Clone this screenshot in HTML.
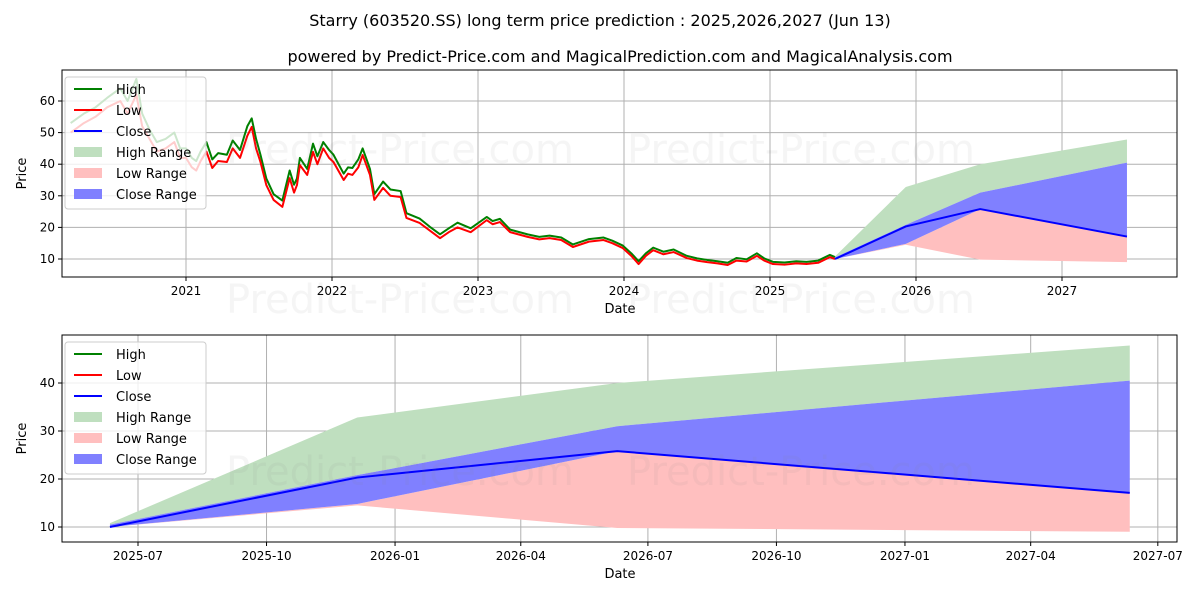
<!DOCTYPE html>
<html><head><meta charset="utf-8"><style>
body{margin:0;background:#fff;font-family:"DejaVu Sans","Liberation Sans",sans-serif;}
svg text{font-family:"DejaVu Sans","Liberation Sans",sans-serif;}
</style></head><body>
<svg id="c" width="1200" height="600" xmlns="http://www.w3.org/2000/svg">
<rect width="1200" height="600" fill="#fff"/>
<text x="600" y="26" font-size="16" text-anchor="middle">Starry (603520.SS) long term price prediction : 2025,2026,2027 (Jun 13)</text>
<text x="620" y="62" font-size="16" text-anchor="middle">powered by Predict-Price.com and MagicalPrediction.com and MagicalAnalysis.com</text>
</svg>
<script>
// historical data (decimal years)
const histT=[2020.21,2020.3,2020.38,2020.46,2020.55,2020.6,2020.66,2020.7,2020.75,2020.8,2020.86,2020.92,2020.96,2021.0,2021.04,2021.07,2021.1,2021.14,2021.18,2021.22,2021.28,2021.32,2021.37,2021.42,2021.45,2021.48,2021.51,2021.55,2021.6,2021.66,2021.71,2021.74,2021.76,2021.78,2021.83,2021.87,2021.9,2021.94,2021.98,2022.01,2022.08,2022.11,2022.14,2022.18,2022.21,2022.26,2022.29,2022.35,2022.4,2022.47,2022.51,2022.6,2022.67,2022.74,2022.8,2022.86,2022.95,2023.06,2023.1,2023.15,2023.22,2023.34,2023.42,2023.49,2023.57,2023.65,2023.76,2023.86,2023.92,2023.99,2024.05,2024.1,2024.15,2024.2,2024.27,2024.34,2024.43,2024.5,2024.57,2024.64,2024.71,2024.77,2024.84,2024.91,2024.96,2025.02,2025.1,2025.18,2025.25,2025.33,2025.41,2025.445];
const histLow=[50,53,55,58,60,56,62,52,48,44,45,47,42,42,39,38,41,44,38.8,41,40.7,45,42,49,51.8,45,40.7,33.4,28.7,26.5,35.6,31,33.4,39.7,36.6,43.9,40,45,42,40.7,35,37,36.6,39,42.9,36.6,28.7,32.5,30,29.6,23,21.4,19,16.6,18.5,20,18.5,22.3,21,21.7,18.5,17,16.2,16.6,16,13.8,15.5,16,15,13.5,11,8.4,11,12.8,11.5,12.2,10.3,9.5,9,8.6,8.1,9.5,9.2,11,9.5,8.4,8.2,8.6,8.4,8.8,10.6,10];
const histHigh=[53,56,58,61,64,60,67,56,51,47,48,50,45,45,42,41,44,47,41.5,43.5,43,47.5,44.5,52,54.5,48,43,35.5,30.5,28.5,38,33.5,35.5,42,38.5,46.5,42.5,47,44.5,43,37,39,38.8,41.5,45,38.5,30.5,34.5,32,31.5,24.5,22.8,20.2,17.8,19.7,21.5,19.7,23.3,22,22.7,19.3,17.8,17,17.4,16.8,14.6,16.3,16.8,15.8,14.3,11.8,9.3,11.8,13.6,12.3,13,11,10.2,9.7,9.3,8.8,10.3,9.9,11.8,10.2,9.1,8.9,9.3,9.1,9.5,11.3,10.6];
// forecast
const fcT=[2025.445,2025.93,2026.44,2027.445];
const fcClose=[10,20.3,25.8,17.1];
const fcHighUp=[10.8,32.8,40,47.8];
const fcCloseUp=[10.5,20.8,31,40.5];
const fcCloseLo=[10,14.8,25.8,17.1];
const fcLowLo=[10,14.5,9.8,9];
const topYTicks=[10,20,30,40,50,60];
const topXTicks=[2021,2022,2023,2024,2025,2026,2027];
const botYTicks=[10,20,30,40];
const botXLabels=['2025-07','2025-10','2026-01','2026-04','2026-07','2026-10','2027-01','2027-04','2027-07'];
const botXDays=[0,92,184,274,365,457,549,639,730];

const NS='http://www.w3.org/2000/svg';
const svg=document.getElementById('c');
function el(tag,attrs,parent){const e=document.createElementNS(NS,tag);for(const k in attrs)e.setAttribute(k,attrs[k]);(parent||svg).appendChild(e);return e;}

function panel(top,bottom,xs,ys,xTicks,xLabels,yTicks,name){
  const g=el('g',{});
  
  
  xTicks.forEach((v,i)=>{const x=xs(v);
    const l=el('line',{x1:x,x2:x,y1:top,y2:bottom,stroke:'#b0b0b0','stroke-width':1},g);
    
    el('line',{x1:x,x2:x,y1:bottom,y2:bottom+4,stroke:'#000'},g);
    const t=el('text',{x:x,y:bottom+18,'font-size':12,'text-anchor':'middle'},g);t.textContent=xLabels[i];
    });
  yTicks.forEach(v=>{const y=ys(v);
    const l=el('line',{x1:62,x2:1177,y1:y,y2:y,stroke:'#b0b0b0','stroke-width':1},g);
    
    el('line',{x1:58,x2:62,y1:y,y2:y,stroke:'#000'},g);
    const t=el('text',{x:55,y:y+4,'font-size':12,'text-anchor':'end'},g);t.textContent=v;
    });
  const yl=el('text',{x:26,y:(top+bottom)/2,'font-size':13,'text-anchor':'middle',transform:`rotate(-90 26 ${(top+bottom)/2})`},g);yl.textContent='Price';
  
  const xl=el('text',{x:620,y:bottom+36,'font-size':13,'text-anchor':'middle'},g);xl.textContent='Date';
  
  return g;
}
function watermark(y,g){
  [400,801].forEach(x=>{
    const w=el('text',{x:x,y:y,'font-size':40,fill:'#808080','fill-opacity':0.08,'text-anchor':'middle'},g);
    w.textContent='Predict-Price.com';
    
  });
}
function poly(xs,ys,T,lo,hi,fill,g,name){
  let pts=T.map((t,i)=>xs(t)+','+ys(hi[i]));
  for(let i=T.length-1;i>=0;i--)pts.push(xs(T[i])+','+ys(lo[i]));
  const p=el('polygon',{points:pts.join(' '),fill:fill},g);
  
}
function line(xs,ys,T,V,col,w,g,name){
  const p=el('polyline',{points:T.map((t,i)=>xs(t)+','+ys(V[i])).join(' '),fill:'none',stroke:col,'stroke-width':w,'stroke-linejoin':'round'},g);
  
}
function legend(x,y,g){
  const lg=el('g',{},g);
  
  el('rect',{x:x,y:y,width:141,height:132,rx:3,fill:'rgba(255,255,255,0.8)',stroke:'#ccc'},lg);
  const items=[['High','#008000','line'],['Low','#ff0000','line'],['Close','#0000ff','line'],['High Range','#bfdfbf','patch'],['Low Range','#ffbfbf','patch'],['Close Range','#8080ff','patch']];
  items.forEach((it,i)=>{const yy=y+12+i*21;
    const e=el('g',{},lg);
    
    if(it[2]=='line')el('line',{x1:x+9,x2:x+37,y1:yy,y2:yy,stroke:it[1],'stroke-width':2},e);
    else el('rect',{x:x+9,y:yy-5,width:28,height:10,fill:it[1]},e);
    const t=el('text',{x:x+51,y:yy+5,'font-size':13},e);t.textContent=it[0];});
}
// top panel
const tTop=70,tBot=277;
const xsT=t=>186+(t-2021)*146;
const ysT=v=>259-(v-10)*3.16;
const gT=panel(tTop,tBot,xsT,ysT,topXTicks,topXTicks.map(String),topYTicks,'top-panel');
poly(xsT,ysT,fcT,fcCloseUp,fcHighUp,'#bfdfbf',gT,'high-range');
poly(xsT,ysT,fcT,fcLowLo,fcCloseLo,'#ffbfbf',gT,'low-range');
poly(xsT,ysT,fcT,fcCloseLo,fcCloseUp,'#8080ff',gT,'close-range');
line(xsT,ysT,histT,histHigh,'#008000',2,gT,'high-line');
line(xsT,ysT,histT,histLow,'#ff0000',2,gT,'low-line');
line(xsT,ysT,fcT,fcClose,'#0000ff',2,gT,'close-line');
watermark(163,gT);
watermark(313,gT);
el('rect',{x:62,y:tTop,width:1115,height:tBot-tTop,fill:'none',stroke:'#000'},gT);
legend(65,77,gT);
// bottom panel
const bTop=335,bBot=542;
const d0=2025.5;
const xsB=t=>138+(t-d0)*365*1.397;
const ysB=v=>527-(v-10)*4.8;
const gB=panel(bTop,bBot,xsB,ysB,botXDays.map(d=>d0+d/365),botXLabels,botYTicks,'bottom-panel');
poly(xsB,ysB,fcT,fcCloseUp,fcHighUp,'#bfdfbf',gB,'high-range');
poly(xsB,ysB,fcT,fcLowLo,fcCloseLo,'#ffbfbf',gB,'low-range');
poly(xsB,ysB,fcT,fcCloseLo,fcCloseUp,'#8080ff',gB,'close-range');
line(xsB,ysB,fcT,fcClose,'#0000ff',2,gB,'close-line');
watermark(485,gB);
el('rect',{x:62,y:bTop,width:1115,height:bBot-bTop,fill:'none',stroke:'#000'},gB);
legend(65,342,gB);
</script>
</body></html>
